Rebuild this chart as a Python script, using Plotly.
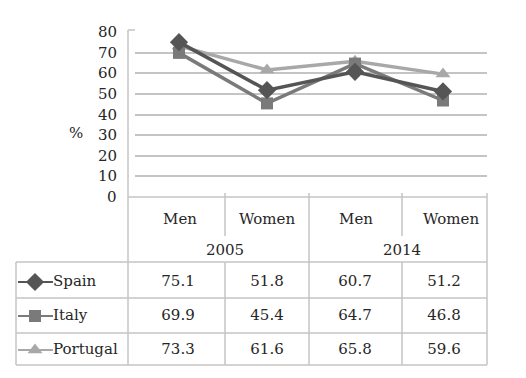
import plotly.graph_objects as go

# ---- data ----
categories = ["Men", "Women", "Men", "Women"]
years = ["2005", "2014"]
series_names = ["Spain", "Italy", "Portugal"]
spain = [75.1, 51.8, 60.7, 51.2]
italy = [69.9, 45.4, 64.7, 46.8]
portugal = [73.3, 61.6, 65.8, 59.6]
y_ticks = [0, 10, 20, 30, 40, 50, 60, 70, 80]
y_title = "%"

W, H = 526, 378
OFF = 8  # page body margin
def px(x): return (x - OFF) / W
def py(y): return 1 - (y - OFF) / H

colors = {"Spain": "#555555", "Italy": "#7a7a7a", "Portugal": "#a8a8a8"}
symbols = {"Spain": "diamond", "Italy": "square", "Portugal": "triangle-up"}
msize = {"Spain": 14, "Italy": 12, "Portugal": 13}
values = {"Spain": spain, "Italy": italy, "Portugal": portugal}

FONT = "DejaVu Serif"
TXT = "#262626"
GRID = "#c4c4c4"
tfont = dict(family=FONT, size=15, color=TXT)

fig = go.Figure()
xs = list(range(len(categories)))
for name in ["Portugal", "Italy", "Spain"]:
    fig.add_trace(go.Scatter(
        x=xs, y=values[name], mode="lines+markers", name=name,
        line=dict(color=colors[name], width=3.5),
        marker=dict(symbol=symbols[name], size=msize[name], color=colors[name]),
        showlegend=False, xaxis="x", yaxis="y", cliponaxis=False))

# table (pixel canvas axis x2/y2)
row_y = [282, 316, 350]
col_x = [178, 267, 355, 444]
for i, name in enumerate(series_names):
    fig.add_trace(go.Scatter(
        x=[18, 35, 53], y=[row_y[i]] * 3, mode="lines",
        line=dict(color=colors[name], width=2), showlegend=False,
        xaxis="x2", yaxis="y2", hoverinfo="skip"))
    fig.add_trace(go.Scatter(
        x=[35], y=[row_y[i]], mode="markers",
        marker=dict(symbol=symbols[name], size=msize[name], color=colors[name]),
        showlegend=False, xaxis="x2", yaxis="y2", hoverinfo="skip"))
    fig.add_trace(go.Scatter(
        x=[53], y=[row_y[i]], mode="text", text=[name], textposition="middle right",
        textfont=tfont, showlegend=False, xaxis="x2", yaxis="y2", hoverinfo="skip"))
    fig.add_trace(go.Scatter(
        x=col_x, y=[row_y[i]] * 4, mode="text",
        text=[f"{v:.1f}" for v in values[name]], textposition="middle center",
        textfont=tfont, showlegend=False, xaxis="x2", yaxis="y2", hoverinfo="skip"))

fig.add_trace(go.Scatter(
    x=[180, 267, 356, 451], y=[220] * 4, mode="text", text=categories,
    textposition="middle center", textfont=tfont, showlegend=False,
    xaxis="x2", yaxis="y2", hoverinfo="skip"))
fig.add_trace(go.Scatter(
    x=[225, 402], y=[251] * 2, mode="text", text=years,
    textposition="middle center", textfont=tfont, showlegend=False,
    xaxis="x2", yaxis="y2", hoverinfo="skip"))

shapes = []
def line(x0, y0, x1, y1, w=1.5):
    shapes.append(dict(type="line", xref="paper", yref="paper",
                       x0=px(x0), y0=py(y0), x1=px(x1), y1=py(y1),
                       line=dict(color=GRID, width=w)))

line(128, 197, 487, 197)
for yy in [262, 298, 333, 365]:
    line(16, yy, 487, yy)
line(16, 262, 16, 365)
line(128, 30, 128, 365)
line(128, 30, 135, 30)
line(225, 193, 225, 236); line(225, 262, 225, 365)
line(309, 193, 309, 365)
line(402, 193, 402, 236); line(402, 262, 402, 365)
line(487, 193, 487, 365)

ann = []
for t in y_ticks:
    ann.append(dict(x=px(119), y=t, xref="paper", yref="y", text=str(t),
                    showarrow=False, xanchor="right", yanchor="middle", font=tfont))
ann.append(dict(x=px(67), y=py(122), xref="paper", yref="paper", text=y_title,
                showarrow=False, font=tfont))

fig.update_layout(
    width=W, height=H, margin=dict(l=0, r=0, t=0, b=0),
    paper_bgcolor="white", plot_bgcolor="rgba(0,0,0,0)",
    xaxis=dict(domain=[px(135), px(487)], range=[-0.5, 3.5], visible=False),
    yaxis=dict(domain=[py(197), py(30)], range=[0, 81], tickvals=y_ticks[1:-1],
               showticklabels=False, showgrid=True, gridcolor=GRID, gridwidth=1.5,
               zeroline=False, showline=False, ticks=""),
    xaxis2=dict(domain=[0, 1], range=[OFF, W + OFF], visible=False, anchor="y2"),
    yaxis2=dict(domain=[0, 1], range=[H + OFF, OFF], visible=False, anchor="x2"),
    shapes=shapes, annotations=ann, showlegend=False,
)
fig.write_html("out.html")
